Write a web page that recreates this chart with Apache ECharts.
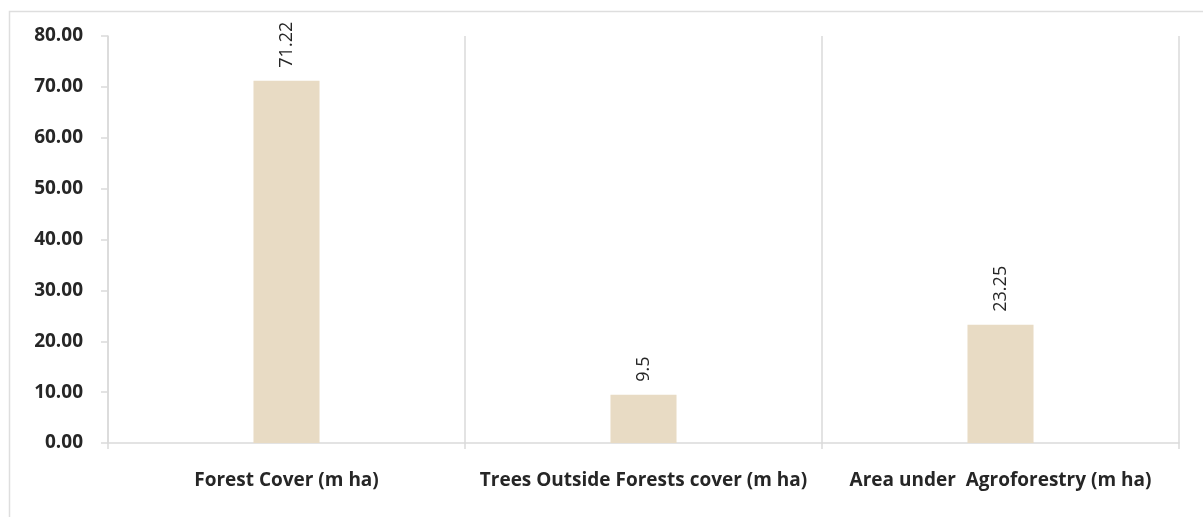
<!DOCTYPE html>
<html>
<head>
<meta charset="utf-8">
<script src="https://cdn.jsdelivr.net/npm/echarts@6/dist/echarts.min.js"></script>
<style>
  html, body { margin: 0; padding: 0; background: #fff; }
  #chart { width: 1203px; height: 517px; }
</style>
</head>
<body>
<div id="chart"></div>
<script>
// Categories and their areas (million hectares)
const categories = [
  'Forest Cover (m ha)',
  'Trees Outside Forests cover (m ha)',
  'Area under  Agroforestry (m ha)'
];
const areaValues = [71.22, 9.5, 23.25];
const valueLabels = ['71.22', '9.5', '23.25'];

// Value axis range
const yMin = 0;
const yMax = 80;
const yStep = 10;

const gridColor = '#dadada';
const textColor = '#262626';
const fontFamily = '"Open Sans", sans-serif';

const chart = echarts.init(document.getElementById('chart'), null, { renderer: 'canvas' });

chart.setOption({
  backgroundColor: '#ffffff',
  animation: false,
  graphic: [{
    type: 'rect',
    left: 7,
    top: 9,
    shape: { width: 1400, height: 700 },
    style: { fill: 'none', stroke: '#dedede', lineWidth: 1.5 },
    silent: true
  }],
  grid: { left: 108, right: 24, top: 36, bottom: 74, containLabel: false },
  xAxis: {
    type: 'category',
    data: categories,
    boundaryGap: true,
    axisLine: { show: true, lineStyle: { color: gridColor, width: 1.5 } },
    axisTick: { show: true, length: 6, lineStyle: { color: gridColor, width: 1.5 } },
    splitLine: { show: true, lineStyle: { color: gridColor, width: 1.5 } },
    axisLabel: {
      margin: 28,
      color: textColor,
      fontFamily: fontFamily,
      fontWeight: 'bold',
      fontSize: 19,
      interval: 0
    }
  },
  yAxis: {
    type: 'value',
    min: yMin,
    max: yMax,
    interval: yStep,
    axisLine: { show: true, lineStyle: { color: gridColor, width: 1.5 } },
    axisTick: { show: true, length: 7, lineStyle: { color: gridColor, width: 1.5 } },
    splitLine: { show: false },
    axisLabel: {
      margin: 25,
      color: textColor,
      fontFamily: fontFamily,
      fontWeight: 'bold',
      fontSize: 19,
      formatter: v => v.toFixed(2)
    }
  },
  series: [{
    type: 'bar',
    data: areaValues,
    barWidth: '18.5%',
    itemStyle: { color: '#e8dbc4' },
    label: {
      show: true,
      position: 'top',
      rotate: 90,
      align: 'left',
      verticalAlign: 'middle',
      distance: 13,
      color: textColor,
      fontFamily: fontFamily,
      fontSize: 18,
      formatter: p => valueLabels[p.dataIndex]
    }
  }]
});
</script>
</body>
</html>
